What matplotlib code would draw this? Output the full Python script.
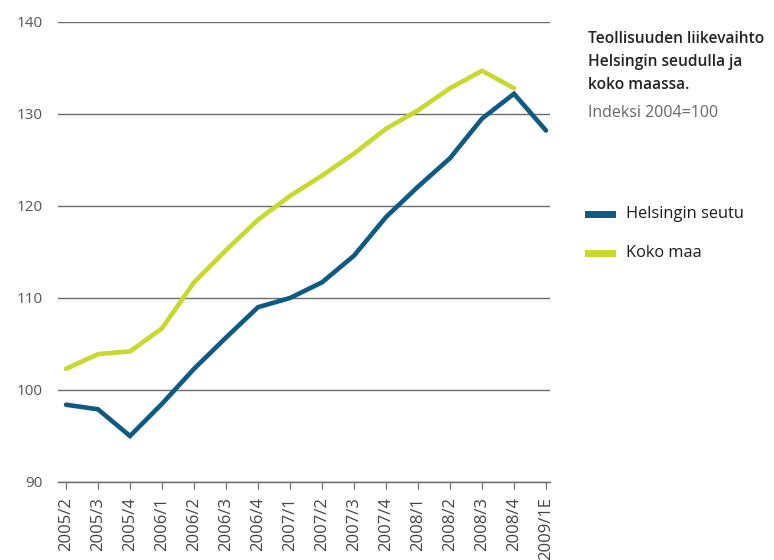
import matplotlib.pyplot as plt

# Neljännekset
jaksot = ['2005/2', '2005/3', '2005/4', '2006/1', '2006/2', '2006/3', '2006/4',
          '2007/1', '2007/2', '2007/3', '2007/4', '2008/1', '2008/2', '2008/3',
          '2008/4', '2009/1E']

helsinki = [98.4, 97.9, 95.0, 98.5, 102.3, 105.7, 109.0, 110.0, 111.7, 114.6,
            118.8, 122.1, 125.2, 129.5, 132.2, 128.2]
koko_maa = [102.3, 103.9, 104.2, 106.7, 111.7, 115.2, 118.5, 121.1, 123.3,
            125.7, 128.4, 130.4, 132.8, 134.7, 132.8]

sininen = '#0e5a82'
vihrea = '#c6d92c'

plt.rcParams['font.family'] = ['Open Sans', 'DejaVu Sans']

fig = plt.figure(figsize=(7.74, 5.6), dpi=100)
ax = fig.add_axes([58 / 774, 1 - 482 / 560, (550 - 58) / 774, (482 - 22) / 560])

x = list(range(len(jaksot)))
ax.plot(x, helsinki, color=sininen, lw=3.3, solid_capstyle='round',
        solid_joinstyle='miter', zorder=3)
ax.plot(x[:len(koko_maa)], koko_maa, color=vihrea, lw=3.3,
        solid_capstyle='round', solid_joinstyle='miter', zorder=3)

ax.set_xlim(-0.25, len(jaksot) - 1 + 0.125)
ax.set_ylim(90, 140)
ax.set_yticks(range(90, 141, 10))
ax.grid(axis='y', color='#6b6b6b', lw=1)
ax.set_axisbelow(True)
for s in ['top', 'right', 'left']:
    ax.spines[s].set_visible(False)
ax.spines['bottom'].set_color('#6b6b6b')
ax.spines['bottom'].set_linewidth(1)

ax.set_xticks(x)
ax.set_xticklabels(jaksot, rotation=90, fontsize=12, color='#444444')
ax.tick_params(axis='x', direction='out', length=5, color='#6b6b6b', pad=6)
ax.tick_params(axis='y', length=0, labelsize=11, labelcolor='#555555', pad=11)

# Otsikko ja selite oikealla
fig.text(588 / 774, 1 - 31 / 560, 'Teollisuuden liikevaihto\nHelsingin seudulla ja\nkoko maassa.',
         fontsize=11.2, fontweight='semibold', color='#222222', va='top',
         linespacing=1.6)
fig.text(588 / 774, 1 - 113 / 560, 'Indeksi 2004=100', fontsize=11.5,
         color='#666666', va='center')

for yy, col, nimi in [(214, sininen, 'Helsingin seutu'), (253, vihrea, 'Koko maa')]:
    fig.add_artist(plt.Line2D([588 / 774, 612 / 774], [1 - yy / 560] * 2,
                              color=col, lw=5, transform=fig.transFigure))
    fig.text(626 / 774, 1 - yy / 560, nimi, fontsize=11.8, color='#1a1a1a',
             va='center')

fig.savefig('out.png', dpi=100)
